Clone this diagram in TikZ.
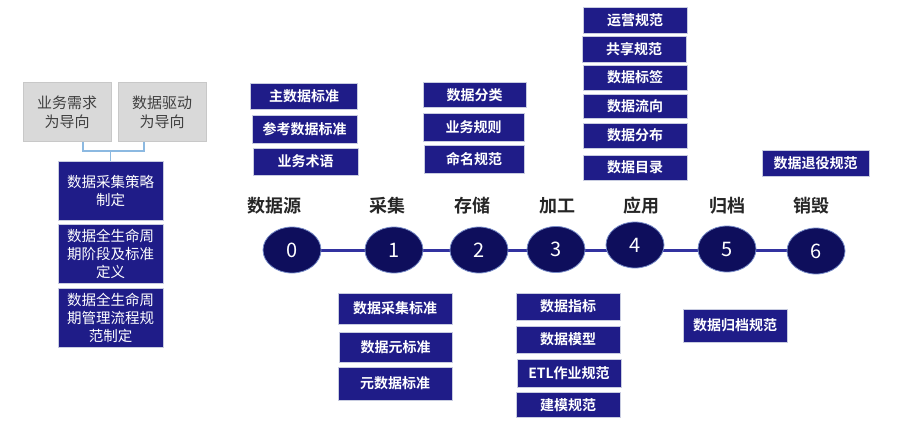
\documentclass[tikz,border=0pt]{standalone}
\usepackage{fontspec}
\setmainfont{Noto Sans CJK SC}
\newfontfamily\cjkb{Noto Sans CJK SC Bold}
\usetikzlibrary{shapes.geometric,calc}
\pgfdeclarelayer{bglayer}
\pgfsetlayers{bglayer,main}
\definecolor{boxblue}{RGB}{31,28,136}
\definecolor{boxedge}{RGB}{200,204,224}
\definecolor{circblue}{RGB}{14,14,92}
\definecolor{circedge}{RGB}{120,140,200}
\definecolor{linkblue}{RGB}{50,50,160}
\definecolor{greyfill}{RGB}{217,217,217}
\definecolor{greyedge}{RGB}{200,200,200}
\definecolor{greytext}{RGB}{64,64,64}
\definecolor{bracec}{RGB}{140,185,225}
\definecolor{labelc}{RGB}{38,38,38}
\tikzset{
  tag/.style={draw=boxedge, line width=0.8pt, fill=boxblue, text=white,
    font=\cjkb\fontsize{14}{16}\selectfont, inner sep=0pt,
    minimum width=104pt, minimum height=27pt, align=center},
  greybox/.style={draw=greyedge, line width=0.8pt, fill=greyfill, text=greytext,
    font=\fontsize{15}{19}\selectfont, inner sep=0pt,
    minimum width=88pt, minimum height=59pt, align=center},
  bluebox/.style={draw=boxedge, line width=0.8pt, fill=boxblue, text=white,
    font=\fontsize{14.5}{18}\selectfont, inner sep=0pt,
    minimum width=105pt, minimum height=59pt, align=center},
  stage/.style={ellipse, draw=circedge, line width=0.8pt, fill=circblue, text=white,
    font=\fontsize{20}{22}\selectfont, inner sep=0pt,
    minimum width=58pt, minimum height=46pt},
  stagelabel/.style={text=labelc, font=\cjkb\fontsize{18}{20}\selectfont, inner sep=0pt},
  link/.style={draw=linkblue, line width=2.6pt},
  brace/.style={draw=bracec, line width=1.2pt}
}
\begin{document}
\begin{tikzpicture}[x=1pt,y=-1pt]
\useasboundingbox (0,0) rectangle (900,426);

% left column
\node[greybox] (g1) at (67,112) {业务需求\\为导向};
\node[greybox] (g2) at (162,112) {数据驱动\\为导向};
\node[bluebox] (b1) at (110.5,190.5) {数据采集策略\\制定};
\node[bluebox] (b2) at (110.5,253.5) {数据全生命周\\期阶段及标准\\定义};
\node[bluebox] (b3) at (110.5,317.5) {数据全生命周\\期管理流程规\\范制定};
\coordinate (j1) at ($(g1.south)+(16,9)$);
\coordinate (j2) at ($(g2.south)+(-18,9)$);
\draw[brace] (g1.south -| j1) -- (j1) -- (j2) -- (g2.south -| j2);
\draw[brace] (b1.north) -- (b1.north |- j1);

% timeline
\node[stage] (c0) at (292,250) {0};
\node[stage] (c1) at (394,250) {1};
\node[stage] (c2) at (479,250) {2};
\node[stage] (c3) at (556,249.5) {3};
\node[stage] (c4) at (635,245) {4};
\node[stage] (c5) at (727,249) {5};
\node[stage] (c6) at (816,251) {6};
\coordinate (ly) at (0,250.5);
\begin{pgfonlayer}{bglayer}
  \path[link] (c0 |- ly) -- (c1 |- ly);
  \path[link] (c1 |- ly) -- (c2 |- ly);
  \path[link] (c2 |- ly) -- (c3 |- ly);
  \path[link] (c3 |- ly) -- (c4 |- ly);
  \path[link] (c4 |- ly) -- (c5 |- ly);
  \path[link] (c5 |- ly) -- (c6 |- ly);
\end{pgfonlayer}

\node[stagelabel] (l0) at (274,206) {数据源};
\node[stagelabel] (l1) at (387,206) {采集};
\node[stagelabel] (l2) at (472,206) {存储};
\node[stagelabel] (l3) at (557,206) {加工};
\node[stagelabel] (l4) at (641,206) {应用};
\node[stagelabel] (l5) at (727,206) {归档};
\node[stagelabel] (l6) at (811,206) {销毁};

% boxes above
\node[tag, minimum width=107pt, minimum height=26pt] (mdm) at (304,96) {主数据标准};
\node[tag, minimum width=105pt, minimum height=28pt] (ref) at (304.5,129) {参考数据标准};
\node[tag, minimum width=105pt] (term) at (305.5,161.5) {业务术语};

\node[tag, minimum width=103pt, minimum height=25pt] (cls) at (474.5,95) {数据分类};
\node[tag, minimum width=101pt, minimum height=28pt] (rule) at (473.5,127) {业务规则};
\node[tag, minimum width=100pt, minimum height=28pt] (naming) at (474,159) {命名规范};

\node[tag, minimum height=26pt] (ops) at (635,20) {运营规范};
\node[tag, minimum height=26pt] (share) at (634,49) {共享规范};
\node[tag, minimum height=25pt] (label) at (635,77.5) {数据标签};
\node[tag, minimum height=24pt] (flow) at (635,106) {数据流向};
\node[tag, minimum height=25pt] (dist) at (635,135.5) {数据分布};
\node[tag, minimum height=25pt] (cat) at (635,167.5) {数据目录};

\node[tag, minimum width=107pt, minimum height=26pt] (retire) at (815.5,163) {数据退役规范};

% boxes below
\node[tag, minimum width=114pt, minimum height=31pt] (cstd) at (395,308.5) {数据采集标准};
\node[tag, minimum width=113pt, minimum height=30pt] (elem) at (395.5,347) {数据元标准};
\node[tag, minimum width=114pt, minimum height=33pt] (meta) at (395,383.5) {元数据标准};

\node[tag, minimum height=27pt] (ind) at (568,306.5) {数据指标};
\node[tag, minimum height=27pt] (model) at (568,339.5) {数据模型};
\node[tag, minimum height=28pt] (etl) at (569,373) {ETL作业规范};
\node[tag, minimum height=25pt] (bm) at (568,405) {建模规范};

\node[tag, minimum height=33pt] (arch) at (735,325.5) {数据归档规范};
\end{tikzpicture}
\end{document}
